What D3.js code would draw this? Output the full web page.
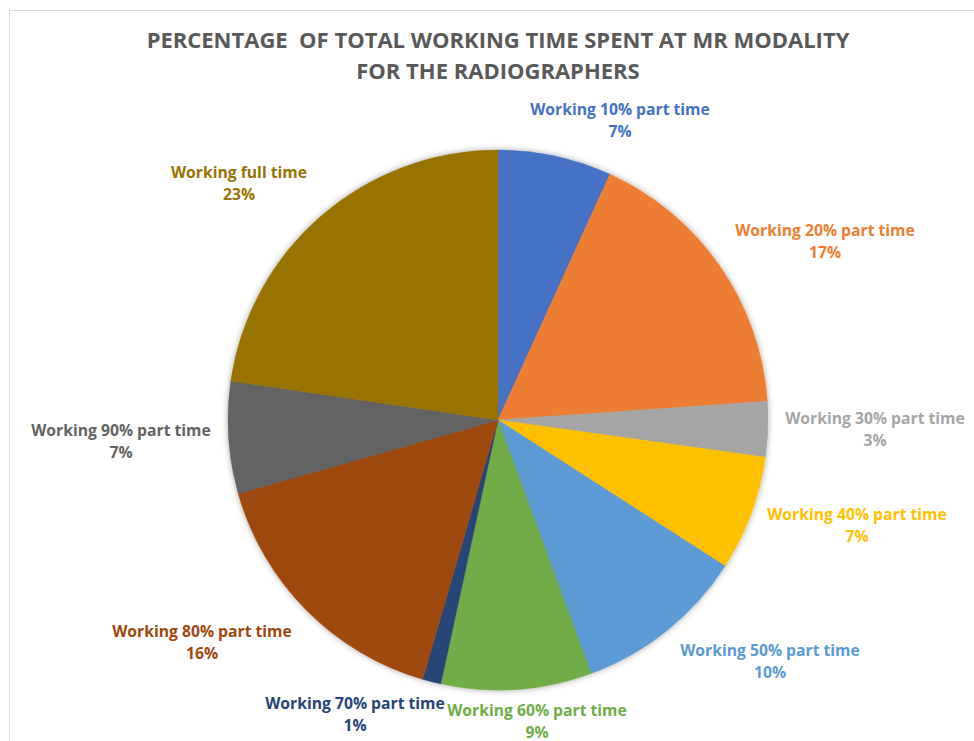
<!DOCTYPE html>
<html><head><meta charset="utf-8">
<script src="https://cdn.jsdelivr.net/npm/d3@7"></script>
<style>body{margin:0;background:#fff}svg{display:block}</style>
</head><body>
<svg id="c" width="974" height="741"></svg>
<script>
const categories = ["Working 10% part time","Working 20% part time","Working 30% part time","Working 40% part time","Working 50% part time","Working 60% part time","Working 70% part time","Working 80% part time","Working 90% part time","Working full time"];
const values = [6.8, 17.1, 3.3, 6.9, 10.3, 9.0, 1.1, 16.1, 6.7, 22.7];
const valueLabels = ["7%","17%","3%","7%","10%","9%","1%","16%","7%","23%"];
const colors = ["#4472C4","#ED7D31","#A5A5A5","#FFC000","#5B9BD5","#70AD47","#264478","#9E480E","#636363","#997300"];
const labelPos = [[620,111],[825,232],[875,420],[857,516],[770,652],[537,712],[355,705],[202,633],[121,432],[239,174]];
const titleLines = ["PERCENTAGE  OF TOTAL WORKING TIME SPENT AT MR MODALITY","FOR THE RADIOGRAPHERS"];

const svg = d3.select("#c");
const font = "'Open Sans', Lato, sans-serif";
svg.append("rect").attr("x",9.5).attr("y",10.5).attr("width",1000).attr("height",800)
  .attr("fill","#fff").attr("stroke","#d9d9d9").attr("stroke-width",1);

const defs = svg.append("defs");
const f = defs.append("filter").attr("id","sh").attr("x","-10%").attr("y","-10%").attr("width","120%").attr("height","120%");
f.append("feDropShadow").attr("dx",0).attr("dy",0).attr("stdDeviation",3).attr("flood-color","#000").attr("flood-opacity",0.35);

svg.selectAll(".title").data(titleLines).join("text")
  .attr("x",498).attr("y",(d,i)=>42+i*31).attr("text-anchor","middle").attr("dominant-baseline","middle")
  .attr("font-family",font).attr("font-weight","bold").attr("font-size",22).attr("fill","#595959")
  .style("white-space","pre").text(d=>d);

const cx=498, cy=420, r=270;
const pie = d3.pie().sort(null).value(d=>d);
const arcs = pie(values);
const arc = d3.arc().innerRadius(0).outerRadius(r);
const g = svg.append("g").attr("transform",`translate(${cx},${cy})`);
g.append("g").attr("filter","url(#sh)").selectAll("path").data(arcs).join("path")
  .attr("d",arc).attr("fill",(d,i)=>colors[i]).attr("stroke",(d,i)=>colors[i]).attr("stroke-width",0.5);

const lab = svg.selectAll(".lab").data(categories).join("text")
  .attr("text-anchor","middle").attr("font-family",font).attr("font-weight","bold").attr("font-size",15.7)
  .attr("fill",(d,i)=>colors[i]);
lab.append("tspan").attr("x",(d,i)=>labelPos[i][0]).attr("y",(d,i)=>labelPos[i][1]).attr("dominant-baseline","middle").text(d=>d);
lab.append("tspan").attr("x",(d,i)=>labelPos[i][0]).attr("y",(d,i)=>labelPos[i][1]+22).attr("dominant-baseline","middle").text((d,i)=>valueLabels[i]);
</script>
</body></html>
